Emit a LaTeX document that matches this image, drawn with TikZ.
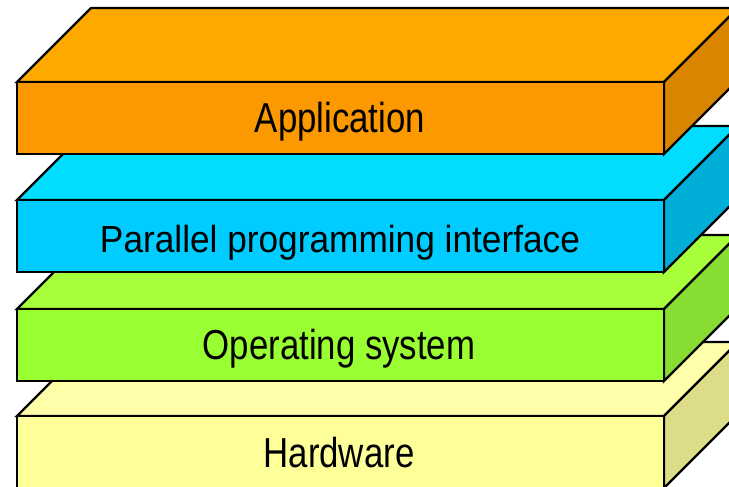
\documentclass[tikz,border=0pt]{standalone}
\usepackage{fontspec}
\setmainfont{Liberation Sans}
\definecolor{appF}{RGB}{252,153,0}
\definecolor{appT}{RGB}{255,168,0}
\definecolor{appS}{RGB}{218,133,0}
\definecolor{ppiF}{RGB}{0,204,255}
\definecolor{ppiT}{RGB}{0,221,255}
\definecolor{ppiS}{RGB}{0,174,216}
\definecolor{osF}{RGB}{153,255,51}
\definecolor{osT}{RGB}{166,255,58}
\definecolor{osS}{RGB}{136,221,51}
\definecolor{hwF}{RGB}{255,255,153}
\definecolor{hwT}{RGB}{255,255,170}
\definecolor{hwS}{RGB}{221,221,136}
\tikzset{
  edge/.style={draw=black, line width=2.4pt, line join=miter},
  lbl/.style={font=\fontsize{10}{12}\selectfont, text=black, inner sep=0pt, anchor=base}
}
% one slab: #1 top y of front face, #2 front colour, #3 top colour, #4 side colour
\newcommand{\slab}[4]{%
  \path[edge, fill=#3] (17,#1) -- ++(74,-74) -- ++(647,0) -- ++(-74,74) -- cycle;
  \path[edge, fill=#4] (664,#1) -- ++(74,-74) -- ++(0,72) -- ++(-74,74) -- cycle;
  \path[edge, fill=#2] (17,#1) rectangle ++(647,72);
}
\begin{document}
\begin{tikzpicture}[x=1pt, y=-1pt]
  \useasboundingbox (0,0) rectangle (729,487);
  \clip (0,0) rectangle (729,487);
  \fill[white] (0,0) rectangle (729,487);
  \slab{416}{hwF}{hwT}{hwS}
  \node[lbl] (hw) at (339,467.3) {\scalebox{3.48}[4.19]{Hardware}};
  \slab{309}{osF}{osT}{osS}
  \node[lbl] (os) at (339,359.5) {\scalebox{3.48}[4.19]{Operating system}};
  \slab{200}{ppiF}{ppiT}{ppiS}
  \node[lbl] (ppi) at (340,252.3) {\scalebox{3.525}[3.77]{Parallel programming interface}};
  \slab{82}{appF}{appT}{appS}
  \node[lbl] (app) at (340,132.3) {\scalebox{3.48}[4.19]{Application}};
\end{tikzpicture}
\end{document}
